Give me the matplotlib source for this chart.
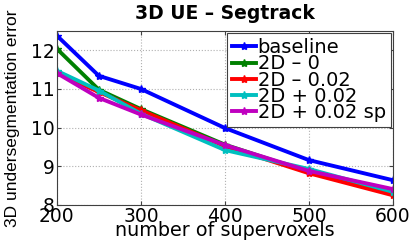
import matplotlib.pyplot as plt

plt.rcParams['font.family'] = ['DejaVu Sans']

# === Données ===
n_supervoxels = [200, 250, 300, 400, 500, 600]
baseline = [12.38, 11.34, 11.0, 9.99, 9.16, 8.64]
d2_0 = [12.04, 10.98, 10.48, 9.56, 8.85, 8.30]
d2_m002 = [11.41, 10.92, 10.45, 9.52, 8.82, 8.25]
d2_p002 = [11.47, 10.96, 10.36, 9.42, 8.93, 8.34]
d2_p002_sp = [11.41, 10.77, 10.34, 9.55, 8.88, 8.41]

series = [
    ("baseline", baseline, (0, 0, 1)),
    ("2D – 0", d2_0, (0, 0.5, 0)),
    ("2D – 0.02", d2_m002, (1, 0, 0)),
    ("2D + 0.02", d2_p002, (0, 0.75, 0.75)),
    ("2D + 0.02 sp", d2_p002_sp, (0.75, 0, 0.75)),
]

fig = plt.figure(figsize=(4.15, 2.42), dpi=100)
ax = fig.add_axes([0.137, 0.153, 0.81, 0.719])

for label, vals, col in series:
    ax.plot(n_supervoxels, vals, color=col, lw=2.8, marker='*', markersize=6,
            label=label)

ax.set_xlim(200, 600)
ax.set_ylim(8, 12.5)
ax.set_xticks([200, 300, 400, 500, 600])
ax.set_yticks([8, 9, 10, 11, 12])
ax.tick_params(direction='in', top=True, right=True, labelsize=13.5, length=3,
               pad=1.5, color='#404040')
for s in ax.spines.values():
    s.set_color('#404040')
ax.grid(True, linestyle=':', color='#b0b0b0', lw=0.8)

ax.set_title("3D UE – Segtrack", fontsize=13.5, fontweight='bold', pad=8.6)
ax.set_xlabel("number of supervoxels", fontsize=13.8, labelpad=-4)
ax.set_ylabel("3D undersegmentation error", fontsize=12.5, labelpad=8,
              family=['Liberation Sans', 'DejaVu Sans'])

leg = ax.legend(loc='upper right', fontsize=14, handlelength=1.25,
                handletextpad=0.08, labelspacing=-0.14, borderpad=0.25,
                borderaxespad=0.12, fancybox=False, framealpha=1)
leg.get_frame().set_edgecolor('#404040')
leg.get_frame().set_linewidth(0.8)

fig.savefig("out.png", dpi=100)
